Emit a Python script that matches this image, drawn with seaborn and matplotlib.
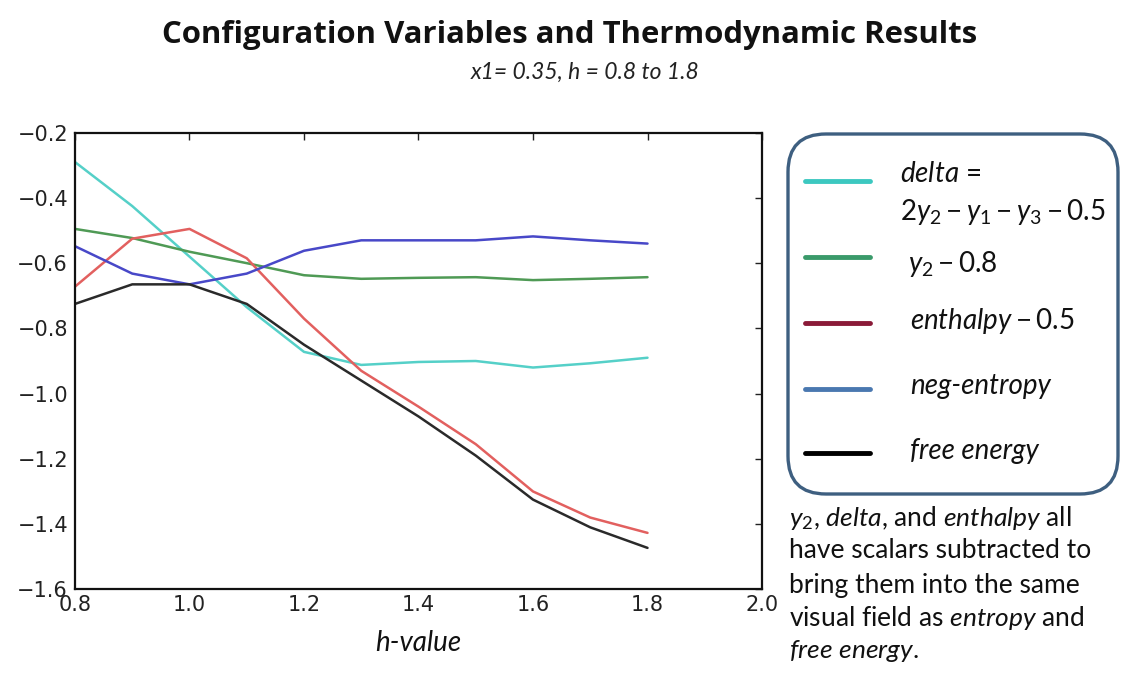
import matplotlib
matplotlib.use("Agg")
import matplotlib.pyplot as plt
from matplotlib.patches import FancyBboxPatch
from matplotlib.lines import Line2D
import seaborn as sns
import pandas as pd

# ---------------- data ----------------
h_values = [0.8, 0.9, 1.0, 1.1, 1.2, 1.3, 1.4, 1.5, 1.6, 1.7, 1.8]
delta = [-0.29, -0.425, -0.58, -0.735, -0.872, -0.912, -0.903, -0.900, -0.920, -0.907, -0.890]
y2 = [-0.495, -0.523, -0.565, -0.600, -0.637, -0.648, -0.645, -0.643, -0.652, -0.648, -0.643]
enthalpy = [-0.672, -0.525, -0.495, -0.585, -0.770, -0.930, -1.040, -1.155, -1.300, -1.380, -1.427]
neg_entropy = [-0.548, -0.632, -0.665, -0.632, -0.562, -0.530, -0.530, -0.530, -0.518, -0.530, -0.540]
free_energy = [-0.725, -0.665, -0.665, -0.725, -0.850, -0.960, -1.070, -1.190, -1.325, -1.410, -1.473]

series_names = ["delta", "y2", "enthalpy", "neg-entropy", "free energy"]
series_values = [delta, y2, enthalpy, neg_entropy, free_energy]
line_colors = ["#55d0c8", "#4f9a55", "#e2605f", "#4848c8", "#2a2a2a"]
legend_colors = ["#3cc8c0", "#3a9a6a", "#8a1a38", "#4a78b0", "#000000"]

x_ticks = [0.8, 1.0, 1.2, 1.4, 1.6, 1.8, 2.0]
y_ticks = [-1.6, -1.4, -1.2, -1.0, -0.8, -0.6, -0.4, -0.2]

title = "Configuration Variables and Thermodynamic Results"
subtitle = "x1= 0.35, h = 0.8 to 1.8"

# ---------------- style ----------------
sns.set_style("white")
plt.rcParams["font.family"] = ["DejaVu Sans"]
plt.rcParams["mathtext.fontset"] = "custom"
plt.rcParams["mathtext.rm"] = "Lato"
plt.rcParams["mathtext.it"] = "Lato:italic"
plt.rcParams["mathtext.bf"] = "Lato:bold"

W, H = 1136, 680
fig = plt.figure(figsize=(W / 100, H / 100), dpi=100)
fig.patch.set_facecolor("white")

def fx(px):
    return px / W

def fy(py):
    return 1 - py / H

ax = fig.add_axes([fx(75), fy(589.3), fx(762) - fx(75), fy(132.7) - fy(589.3)])

rows = []
for name, vals in zip(series_names, series_values):
    for hv, v in zip(h_values, vals):
        rows.append({"h": hv, "value": v, "series": name})
df = pd.DataFrame(rows)

sns.lineplot(data=df, x="h", y="value", hue="series", hue_order=series_names,
             palette=dict(zip(series_names, line_colors)), linewidth=1.8,
             legend=False, ax=ax)

ax.set_xlim(0.8, 2.0)
ax.set_ylim(-1.6, -0.2)
ax.set_xticks(x_ticks)
ax.set_yticks(y_ticks)
ax.set_xticklabels([f"{t:.1f}" for t in x_ticks])
ax.set_yticklabels([f"{t:.1f}".replace("-", "\u2212") for t in y_ticks])
ax.tick_params(direction="in", top=True, right=True, length=5, width=1,
               labelsize=15, pad=5, colors="#222222")
ax.tick_params(axis="x", pad=4)
for s in ax.spines.values():
    s.set_color("#111111")
    s.set_linewidth(1.6)
ax.set_xlabel("h-value", fontsize=20, fontstyle="italic", family="Lato", labelpad=11, color="#111111")
ax.set_ylabel("")

# titles
fig.text(fx(570), fy(35), title, ha="center", va="center", fontsize=22.4,
         fontweight="bold", family="Open Sans", color="#111111")
fig.text(fx(585), fy(72), subtitle, ha="center", va="center", fontsize=16.5,
         fontstyle="italic", family="Lato", color="#222222")

# legend box
box = FancyBboxPatch((7.88, (H - 494) / 100), 3.30, 3.60,
                     boxstyle="round,pad=0,rounding_size=0.38",
                     transform=fig.dpi_scale_trans, facecolor="white",
                     edgecolor="#3e5f80", linewidth=2.4)
fig.patches.append(box)

line_y = [181, 257, 323, 389, 453]
for yy, c in zip(line_y, legend_colors):
    fig.add_artist(Line2D([fx(805), fx(870)], [fy(yy), fy(yy)], color=c,
                          linewidth=3.5, transform=fig.transFigure))

lab_kw = dict(ha="left", va="center", fontsize=20, family="Lato", color="#111111")
fig.text(fx(900), fy(174), r"$\mathit{delta}$ =", **lab_kw)
fig.text(fx(900), fy(212), r"$\mathit{2y_2 - y_1 - y_3 - 0.5}$", **lab_kw)
fig.text(fx(908), fy(264), r"$\mathit{y_2 - 0.8}$", **lab_kw)
fig.text(fx(910), fy(321), r"$\mathit{enthalpy - 0.5}$", **lab_kw)
fig.text(fx(910), fy(386), "neg-entropy", fontstyle="italic", **lab_kw)
fig.text(fx(910), fy(451), "free energy", fontstyle="italic", **lab_kw)

# note
note_lines = [
    r"$\mathit{y}_2$, $\mathit{delta}$, and $\mathit{enthalpy}$ all",
    "have scalars subtracted to",
    "bring them into the same",
    r"visual field as $\mathit{entropy}$ and",
    r"$\mathit{free\ energy}$.",
]
note_y = [518, 551, 585, 618, 651]
for t, yy in zip(note_lines, note_y):
    fig.text(fx(789), fy(yy), t, ha="left", va="center", fontsize=19,
             family="Lato", color="#111111")

fig.savefig("out.png", dpi=100)
